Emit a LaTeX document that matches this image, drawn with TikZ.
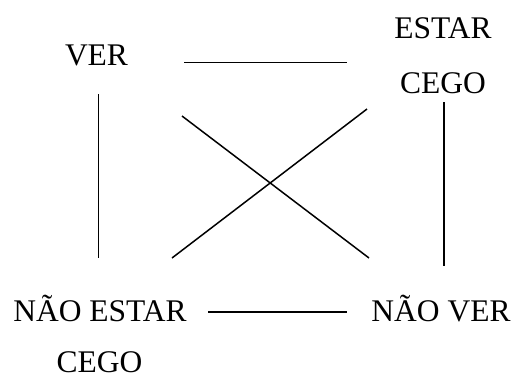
\documentclass[tikz,border=0pt]{standalone}
\usepackage{fontspec}
\setmainfont{Liberation Serif}
\begin{document}
\begin{tikzpicture}[x=1pt,y=-1pt,
  lbl/.style={anchor=base,inner sep=0pt,font=\fontsize{31.5}{36}\selectfont},
  conn/.style={line width=1.5pt}]
\useasboundingbox (0,0) rectangle (514,376);
\node[lbl] (ver) at (96.5,65) {VER};
\node[lbl] (estar) at (443,38) {ESTAR};
\node[lbl] (cego1) at (443,93) {CEGO};
\node[lbl] (naoestar) at (100,321) {NÃO ESTAR};
\node[lbl] (cego2) at (99.5,372) {CEGO};
\node[lbl] (naover) at (441,321) {NÃO VER};
\coordinate (t1) at (184,62.7);
\coordinate (t2) at (347,62.7);
\coordinate (l1) at (98.3,94);
\coordinate (l2) at (98.3,258);
\coordinate (r1) at (444,102);
\coordinate (r2) at (444,266);
\coordinate (d1a) at (182,116);
\coordinate (d1b) at (369,258);
\coordinate (d2a) at (367,109);
\coordinate (d2b) at (172,258);
\coordinate (b1) at (208,312);
\coordinate (b2) at (347,312);
\draw[conn] (t1) -- (t2);
\draw[conn] (l1) -- (l2);
\draw[conn] (r1) -- (r2);
\draw[conn] (d1a) -- (d1b);
\draw[conn] (d2a) -- (d2b);
\draw[conn] (b1) -- (b2);
\end{tikzpicture}
\end{document}
